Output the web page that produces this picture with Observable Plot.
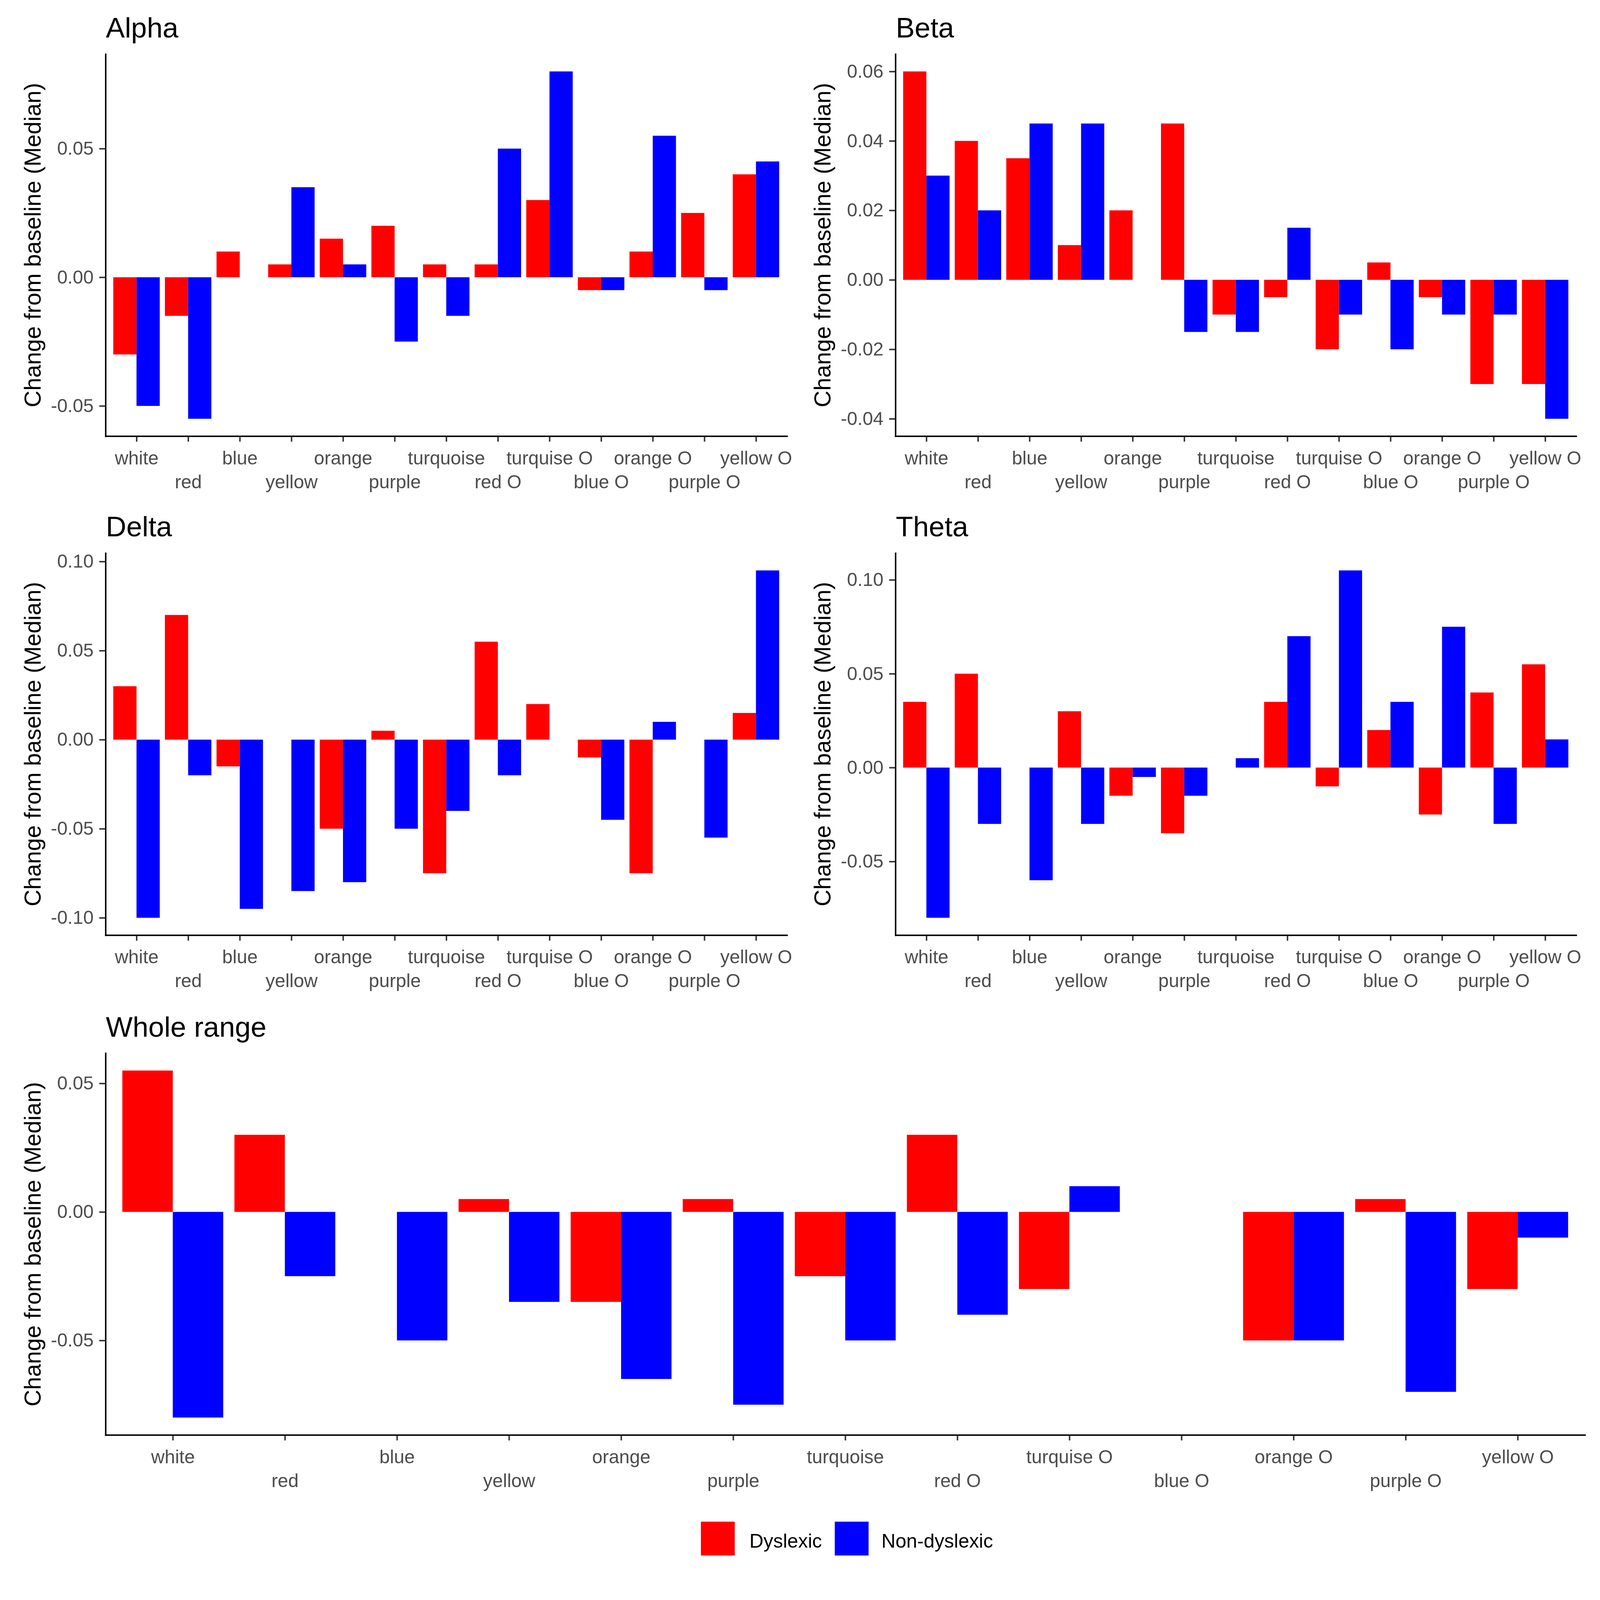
<!DOCTYPE html>
<html>
<head>
<meta charset="utf-8">
<script src="https://cdn.jsdelivr.net/npm/d3@7"></script>
<script src="https://cdn.jsdelivr.net/npm/@observablehq/plot@0.6"></script>
<style>
  html, body { margin: 0; padding: 0; background: white; overflow: hidden; font-family: "Liberation Sans", Arial, sans-serif; }
  #page { position: relative; width: 4351px; height: 4287px; background: white; transform-origin: 0 0; }
  .title { position: absolute; font-size: 77px; line-height: 77px; color: black; white-space: nowrap; }
  .ylab { position: absolute; width: 1200px; height: 63px; font-size: 63px; line-height: 63px;
          text-align: center; transform: rotate(-90deg); transform-origin: center; white-space: nowrap; }
  .key { position: absolute; width: 92px; height: 92px; }
  .keytext { position: absolute; font-size: 53px; line-height: 53px; white-space: nowrap; }
</style>
</head>
<body>
<div id="page"></div>
<script>
// colour conditions, in axis order
const categories = ["white", "red", "blue", "yellow", "orange", "purple", "turquoise",
  "red O", "turquise O", "blue O", "orange O", "purple O", "yellow O"];
const groups = ["Dyslexic", "Non-dyslexic"];
const colors = ["#FF0000", "#0000FF"];

// median change from baseline
const alphaDys = [-0.030, -0.015, 0.010, 0.005, 0.015, 0.020, 0.005, 0.005, 0.030, -0.005, 0.010, 0.025, 0.040];
const alphaNon = [-0.050, -0.055, 0.000, 0.035, 0.005, -0.025, -0.015, 0.050, 0.080, -0.005, 0.055, -0.005, 0.045];
const betaDys  = [0.060, 0.040, 0.035, 0.010, 0.020, 0.045, -0.010, -0.005, -0.020, 0.005, -0.005, -0.030, -0.030];
const betaNon  = [0.030, 0.020, 0.045, 0.045, 0.000, -0.015, -0.015, 0.015, -0.010, -0.020, -0.010, -0.010, -0.040];
const deltaDys = [0.030, 0.070, -0.015, 0.000, -0.050, 0.005, -0.075, 0.055, 0.020, -0.010, -0.075, 0.000, 0.015];
const deltaNon = [-0.100, -0.020, -0.095, -0.085, -0.080, -0.050, -0.040, -0.020, 0.000, -0.045, 0.010, -0.055, 0.095];
const thetaDys = [0.035, 0.050, 0.000, 0.030, -0.015, -0.035, 0.000, 0.035, -0.010, 0.020, -0.025, 0.040, 0.055];
const thetaNon = [-0.080, -0.030, -0.060, -0.030, -0.005, -0.015, 0.005, 0.070, 0.105, 0.035, 0.075, -0.030, 0.015];
const wholeDys = [0.055, 0.030, 0.000, 0.005, -0.035, 0.005, -0.025, 0.030, -0.030, 0.000, -0.050, 0.005, -0.030];
const wholeNon = [-0.080, -0.025, -0.050, -0.035, -0.065, -0.075, -0.050, -0.040, 0.010, 0.000, -0.050, -0.070, -0.010];

// y tick values per panel
const alphaTicks = [-0.05, 0, 0.05];
const betaTicks  = [-0.04, -0.02, 0, 0.02, 0.04, 0.06];
const deltaTicks = [-0.10, -0.05, 0, 0.05, 0.10];
const thetaTicks = [-0.05, 0, 0.05, 0.10];
const wholeTicks = [-0.05, 0, 0.05];

const yLabel = "Change from baseline (Median)";
const page = document.getElementById("page");

// fit the 4351x4287 layout into whatever viewport we actually get
const fit = Math.min(window.innerWidth / 4351, window.innerHeight / 4287);
if (fit && Math.abs(fit - 1) > 0.001) page.style.transform = `scale(${fit})`;

// like ggplot: include zero, pad 5% each side
function yDomain(a, b) {
  const lo = Math.min(0, d3.min(a), d3.min(b));
  const hi = Math.max(0, d3.max(a), d3.max(b));
  const pad = (hi - lo) * 0.05;
  return [lo - pad, hi + pad];
}

function addDiv(cls, text, css) {
  const el = document.createElement("div");
  el.className = cls;
  if (text) el.textContent = text;
  Object.assign(el.style, css);
  page.appendChild(el);
  return el;
}

function panel(p) {
  const innerW = p.width - p.mL - p.mR;
  // half of the dodged bar pair (ggplot width 0.9)
  const half = innerW / (categories.length + 0.2) * 0.45;
  const rows = categories.map((c, i) => ({category: c, dys: p.dys[i], non: p.non[i]}));
  const even = categories.filter((c, i) => i % 2 === 0);
  const odd = categories.filter((c, i) => i % 2 === 1);
  const axisStyle = {stroke: "#333333", strokeWidth: 4, fill: "#4D4D4D", label: null};

  const chart = Plot.plot({
    width: p.width,
    height: p.height,
    marginLeft: p.mL, marginRight: p.mR, marginTop: p.mT, marginBottom: p.mB,
    x: {type: "band", domain: categories, paddingInner: 0.1, paddingOuter: 0.15, round: false},
    y: {domain: yDomain(p.dys, p.non)},
    style: {fontFamily: "'Liberation Sans', Arial, sans-serif", fontSize: "51px", background: "white", maxWidth: "none"},
    marks: [
      Plot.barY(rows, {x: "category", y: "dys", fill: colors[0], insetRight: half}),
      Plot.barY(rows, {x: "category", y: "non", fill: colors[1], insetLeft: half}),
      Plot.axisY({ticks: p.ticks, tickFormat: d => d.toFixed(2), tickSize: 17, tickPadding: 16, ...axisStyle}),
      Plot.axisX({ticks: even, tickSize: 15, tickPadding: 25, ...axisStyle}),
      Plot.axisX({ticks: odd, tickSize: 15, tickPadding: 90, ...axisStyle}),
      Plot.frame({anchor: "left", stroke: "black", strokeWidth: 4}),
      Plot.frame({anchor: "bottom", stroke: "black", strokeWidth: 4})
    ]
  });
  Object.assign(chart.style, {position: "absolute", left: p.left + "px", top: p.top + "px"});
  page.appendChild(chart);

  const frameLeft = p.left + p.mL;
  const frameMid = p.top + p.mT + (p.height - p.mT - p.mB) / 2;
  addDiv("title", p.title, {left: (frameLeft + 1) + "px", top: (p.top + p.mT - 45 - 65) + "px"});
  addDiv("ylab", yLabel, {left: (frameLeft - 198 - 600) + "px", top: (frameMid - 31.5) + "px"});
}

panel({title: "Alpha", dys: alphaDys, non: alphaNon, ticks: alphaTicks,
  left: 0, top: 0, width: 2175, height: 1360, mL: 287, mR: 35, mT: 147, mB: 174});
panel({title: "Beta", dys: betaDys, non: betaNon, ticks: betaTicks,
  left: 2175, top: 0, width: 2176, height: 1360, mL: 260, mR: 65, mT: 147, mB: 174});
panel({title: "Delta", dys: deltaDys, non: deltaNon, ticks: deltaTicks,
  left: 0, top: 1360, width: 2175, height: 1360, mL: 287, mR: 35, mT: 144, mB: 177});
panel({title: "Theta", dys: thetaDys, non: thetaNon, ticks: thetaTicks,
  left: 2175, top: 1360, width: 2176, height: 1360, mL: 260, mR: 65, mT: 144, mB: 177});
panel({title: "Whole range", dys: wholeDys, non: wholeNon, ticks: wholeTicks,
  left: 0, top: 2720, width: 4351, height: 1380, mL: 287, mR: 41, mT: 144, mB: 198});

// legend below the bottom panel
const keyLeft = [1906, 2270];
const textLeft = [2038, 2397];
groups.forEach((g, i) => {
  addDiv("key", "", {left: keyLeft[i] + "px", top: "4138px", background: colors[i]});
  addDiv("keytext", g, {left: textLeft[i] + "px", top: (4209 - 45) + "px"});
});
</script>
</body>
</html>
